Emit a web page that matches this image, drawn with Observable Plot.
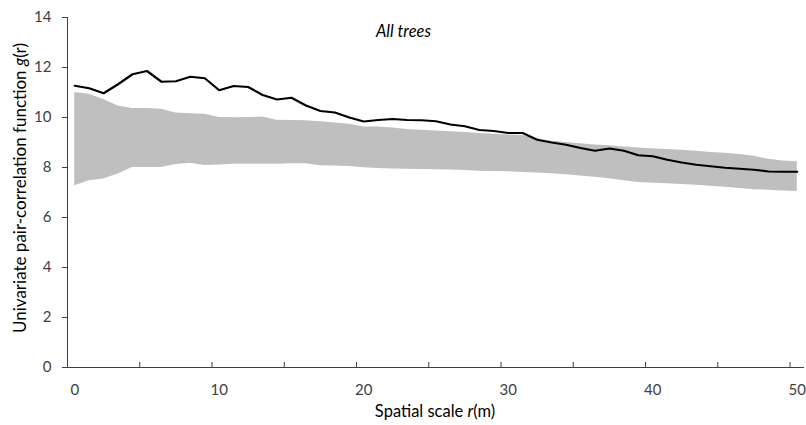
<!DOCTYPE html>
<html>
<head>
<meta charset="utf-8">
<script src="https://cdn.jsdelivr.net/npm/d3@7"></script>
<script src="https://cdn.jsdelivr.net/npm/@observablehq/plot@0.6"></script>
<style>
  html, body { margin: 0; padding: 0; background: #fff; }
  #chart svg { display: block; }
</style>
</head>
<body>
<div id="chart"></div>
<script>
// Spatial scale r (m), categories 0..50
const rValues = [0,1,2,3,4,5,6,7,8,9,10,11,12,13,14,15,16,17,18,19,20,21,22,23,24,25,26,27,28,29,30,31,32,33,34,35,36,37,38,39,40,41,42,43,44,45,46,47,48,49,50];
// Observed univariate pair-correlation function g(r)
const gObserved = [11.27,11.17,10.97,11.33,11.73,11.86,11.43,11.45,11.63,11.57,11.09,11.26,11.22,10.90,10.72,10.79,10.48,10.26,10.20,10.00,9.84,9.90,9.94,9.90,9.89,9.85,9.72,9.65,9.50,9.46,9.38,9.38,9.11,9.00,8.91,8.78,8.67,8.76,8.67,8.49,8.45,8.31,8.20,8.11,8.05,7.99,7.95,7.91,7.84,7.83,7.83];
// Simulation envelope (upper / lower)
const envUpper = [11.00,10.93,10.72,10.46,10.36,10.36,10.33,10.18,10.15,10.13,10.00,9.99,10.00,10.02,9.89,9.88,9.87,9.83,9.78,9.73,9.62,9.62,9.58,9.52,9.49,9.46,9.43,9.40,9.36,9.33,9.30,9.28,9.15,9.05,9.00,8.95,8.90,8.87,8.82,8.78,8.75,8.72,8.69,8.65,8.60,8.57,8.52,8.45,8.33,8.26,8.23];
const envLower = [7.27,7.47,7.54,7.74,8.00,8.00,8.00,8.12,8.17,8.08,8.10,8.13,8.13,8.13,8.13,8.15,8.15,8.07,8.06,8.04,7.99,7.96,7.94,7.93,7.92,7.91,7.90,7.88,7.85,7.84,7.83,7.80,7.78,7.75,7.71,7.66,7.61,7.55,7.47,7.40,7.37,7.35,7.32,7.29,7.25,7.21,7.16,7.11,7.09,7.06,7.04];
const yTicks = [0,2,4,6,8,10,12,14];
const xLabelTicks = [0,10,20,30,40,50];
const xMinorTicks = [4.5,9.5,14.5,19.5,24.5,29.5,34.5,39.5,44.5,49.5];
const titleText = "All trees";

const data = rValues.map((r, i) => ({r, g: gObserved[i], hi: envUpper[i], lo: envLower[i]}));

const FONT = "Lato, 'Open Sans', sans-serif";
const axisColor = "#404040";

const chart = Plot.plot({
  width: 806,
  height: 425,
  marginLeft: 67,
  marginRight: 2,
  marginTop: 17,
  marginBottom: 58,
  style: {fontFamily: FONT, fontSize: "15px", color: "#404040", background: "#fff"},
  x: {domain: [-0.5, 50.5]},
  y: {domain: [0, 14]},
  marks: [
    Plot.areaY(data, {x: "r", y1: "lo", y2: "hi", fill: "#bfbfbf"}),
    Plot.lineY(data, {x: "r", y: "g", stroke: "#000", strokeWidth: 2.2, strokeLinejoin: "round"}),
    Plot.ruleY([0], {stroke: axisColor, strokeWidth: 1}),
    Plot.ruleX([-0.5], {stroke: axisColor, strokeWidth: 1}),
    Plot.ruleX(xMinorTicks, {x: d => d, y1: 0, y2: 0.2, stroke: axisColor, strokeWidth: 1}),
    Plot.axisY({ticks: yTicks, tickSize: 5, tickPadding: 11, label: null, stroke: axisColor, fontSize: 15}),
    Plot.axisX({ticks: xLabelTicks, tickSize: 0, tickPadding: 17, label: null, fontSize: 15}),
    Plot.text([titleText], {frameAnchor: "top-left", lineAnchor: "middle", textAnchor: "middle", dx: 336, dy: 14, text: d => d, fontStyle: "italic", fontSize: 16.5, fill: "#000"})
  ]
});

document.getElementById("chart").appendChild(chart);

// Axis titles with partial italics
const svg = d3.select(chart);
const yLab = svg.append("text")
  .attr("transform", "translate(22,188) rotate(-90)")
  .attr("text-anchor", "middle")
  .attr("dominant-baseline", "middle")
  .attr("fill", "#000")
  .style("font-family", FONT)
  .style("font-size", "17px");
yLab.append("tspan").text("Univariate pair-correlation function ");
yLab.append("tspan").style("font-style", "italic").text("g");
yLab.append("tspan").text("(r)");

const xLab = svg.append("text")
  .attr("x", 435)
  .attr("y", 413)
  .attr("text-anchor", "middle")
  .attr("dominant-baseline", "middle")
  .attr("fill", "#000")
  .style("font-family", FONT)
  .style("font-size", "16.5px");
xLab.append("tspan").text("Spatial scale ");
xLab.append("tspan").style("font-style", "italic").text("r");
xLab.append("tspan").text("(m)");
</script>
</body>
</html>
